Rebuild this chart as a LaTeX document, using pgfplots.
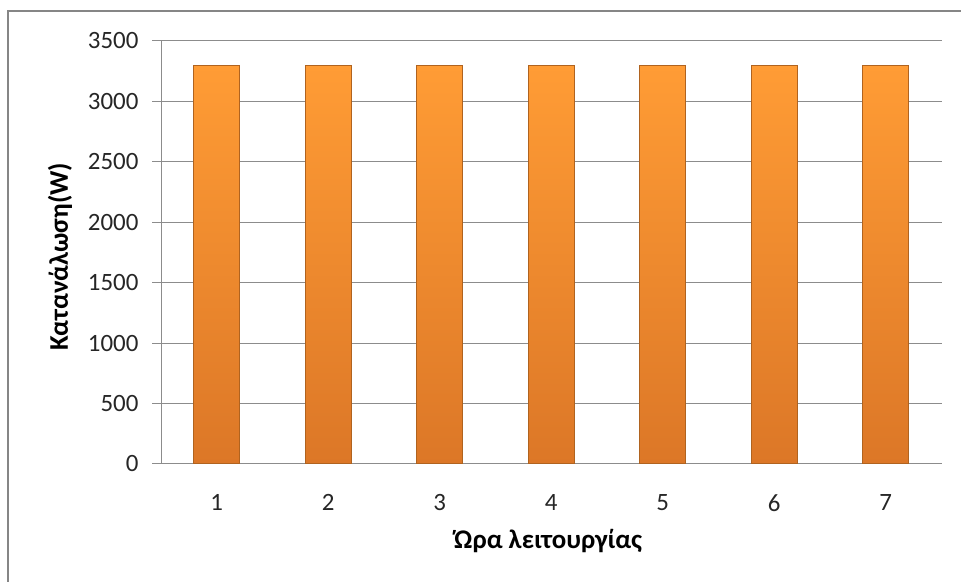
\documentclass[border=0pt]{standalone}
\usepackage{pgfplots}
\pgfplotsset{compat=1.18}
\usepackage{fontspec}
\setmainfont{Carlito}
\definecolor{framegray}{HTML}{868686}
\definecolor{gridgray}{HTML}{8C8C8C}
\definecolor{bartop}{HTML}{FF9C35}
\definecolor{barbot}{HTML}{DC7727}
\definecolor{baredge}{HTML}{B0631F}
\begin{document}
\begin{tikzpicture}[x=1bp,y=1bp]
\useasboundingbox (0,0) rectangle (961,582);
\draw[framegray, line width=2bp] (8,0) -- (8,571) -- (961,571);
\begin{axis}[
  at={(161bp,118bp)}, anchor=south west,
  scale only axis, width=780.5bp, height=423bp,
  xmin=0.5, xmax=7.5, ymin=0, ymax=3500,
  ytick={0,500,...,3500},
  xtick={1,2,3,4,5,6,7},
  axis x line*=bottom, axis y line*=left,
  axis line style={gridgray, line width=1bp, -},
  ymajorgrids, grid style={gridgray, line width=1bp},
  tick align=outside, major tick length=9bp,
  ytick style={gridgray, line width=1bp},
  xtick style={draw=none},
  /pgf/number format/assume math mode=true,
  /pgf/number format/1000 sep={},
  ticklabel style={font=\fontsize{25}{30}\selectfont, text=black!85},
  yticklabel style={xshift=-10bp},
  xticklabel style={yshift=-18bp},
  xlabel={Ώρα λειτουργίας},
  ylabel={Κατανάλωση(W)},
  label style={font=\fontsize{27}{32}\selectfont\bfseries, text=black},
  xlabel style={at={(axis description cs:0.496,-0.182)}, anchor=center},
  ylabel style={at={(axis description cs:-0.1294,0.49)}, anchor=center},
]
\addplot[ybar, bar width=46bp, draw=baredge, line width=1.2bp,
  top color=bartop, bottom color=barbot]
  coordinates {(1,3300) (2,3300) (3,3300) (4,3300) (5,3300) (6,3300) (7,3300)};
\end{axis}
\end{tikzpicture}
\end{document}
